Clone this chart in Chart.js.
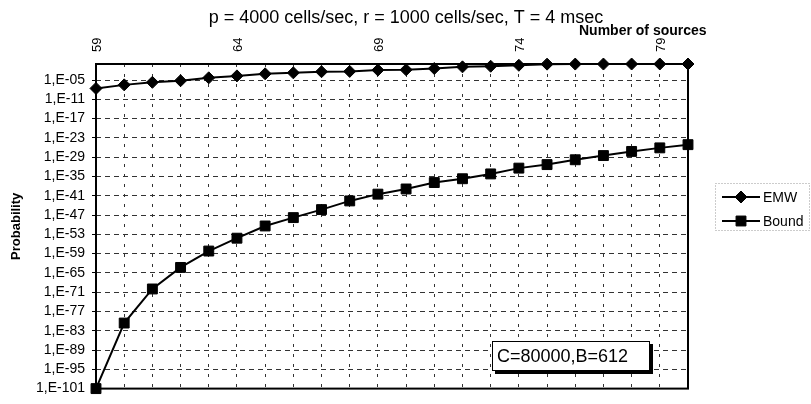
<!DOCTYPE html>
<html>
<head>
<meta charset="utf-8">
<script src="https://cdn.jsdelivr.net/npm/chart.js@4.4.1/dist/chart.umd.min.js"></script>
<style>
  html, body { margin: 0; padding: 0; background: #fff; }
  #wrap { width: 811px; height: 404px; }
</style>
</head>
<body>
<div id="wrap"><canvas id="chart" width="811" height="404"></canvas></div>
<script>
const sources = ['59', '60', '61', '62', '63', '64', '65', '66', '67', '68', '69',
                 '70', '71', '72', '73', '74', '75', '76', '77', '78', '79', '80'];
const shownSources = ['59', '64', '69', '74', '79'];
const emw = [2.5e-8, 3.2e-7, 2e-6, 6.3e-6, 5e-5, 2e-4, 9e-4, 1.8e-3, 4e-3, 5e-3, 1.3e-2,
             1.6e-2, 4e-2, 0.13, 0.2, 0.4, 0.9, 0.95, 0.97, 0.98, 0.99, 1];
const bound = [1e-101, 2.5e-81, 1e-70, 5e-64, 6.3e-59, 6.3e-55, 4e-51, 1.6e-48, 5e-46, 2.5e-43, 3.2e-41,
               1.3e-39, 1.3e-37, 2e-36, 6.3e-35, 4e-33, 5e-32, 1.6e-30, 3.2e-29, 6.3e-28, 8e-27, 8e-26];
const yTickExponents = [-101, -95, -89, -83, -77, -71, -65, -59, -53, -47, -41, -35, -29, -23, -17, -11, -5];
const titleText = 'p = 4000 cells/sec, r = 1000 cells/sec, T = 4 msec';
const xTitleText = 'Number of sources';
const noteText = 'C=80000,B=612';

const FONT = '"Liberation Sans", Arial, sans-serif';
Chart.defaults.font.family = FONT;
Chart.defaults.color = '#000';

function formatExp(v) {
    const e = Math.round(Math.log10(v));
    return '1,E-' + String(-e).padStart(2, '0');
}

const decor = {
    id: 'decor',
    beforeDatasetsDraw(chart) {
        const { ctx, chartArea: a } = chart;
        ctx.save();
        ctx.strokeStyle = '#000';
        ctx.lineWidth = 2;
        ctx.strokeRect(a.left, a.top, a.right - a.left, a.bottom - a.top);
        ctx.restore();
    },
    afterDraw(chart) {
        const ctx = chart.ctx;
        ctx.save();
        ctx.fillStyle = '#000';

        // title
        ctx.font = '18px ' + FONT;
        ctx.textAlign = 'center';
        ctx.textBaseline = 'alphabetic';
        ctx.fillText(titleText, 406, 23);

        // x axis title
        ctx.font = 'bold 14px ' + FONT;
        ctx.textAlign = 'left';
        ctx.fillText(xTitleText, 579, 35);

        // note box
        ctx.fillStyle = '#000';
        ctx.fillRect(495, 344, 158, 30);
        ctx.fillStyle = '#fff';
        ctx.fillRect(492, 341, 158, 30);
        ctx.strokeStyle = '#000';
        ctx.lineWidth = 1;
        ctx.strokeRect(492.5, 341.5, 157, 29);
        ctx.fillStyle = '#000';
        ctx.font = '18px ' + FONT;
        ctx.textBaseline = 'middle';
        ctx.fillText(noteText, 497, 357);

        // legend
        ctx.fillStyle = '#fff';
        ctx.fillRect(715, 183, 95, 48);
        ctx.setLineDash([1, 2]);
        ctx.strokeStyle = '#999';
        ctx.strokeRect(715.5, 183.5, 94, 47);
        ctx.setLineDash([]);
        chart.data.datasets.forEach((ds, i) => {
            const y = 197 + i * 24;
            ctx.strokeStyle = '#000';
            ctx.lineWidth = 2;
            ctx.beginPath();
            ctx.moveTo(722, y);
            ctx.lineTo(760, y);
            ctx.stroke();
            ctx.fillStyle = '#000';
            ctx.lineWidth = 1;
            Chart.helpers.drawPoint(ctx, { pointStyle: ds.pointStyle, radius: ds.pointRadius, borderWidth: 1, rotation: 0 }, 741, y);
            ctx.font = '14px ' + FONT;
            ctx.textAlign = 'left';
            ctx.textBaseline = 'middle';
            ctx.fillText(ds.label, 763, y + 1);
        });
        ctx.restore();
    }
};

new Chart(document.getElementById('chart'), {
    type: 'line',
    data: {
        labels: sources,
        datasets: [
            {
                label: 'EMW',
                data: emw,
                borderColor: '#000',
                backgroundColor: '#000',
                borderWidth: 2,
                pointStyle: 'rectRot',
                pointRadius: 6,
                pointBorderWidth: 1,
                tension: 0,
                clip: false
            },
            {
                label: 'Bound',
                data: bound,
                borderColor: '#000',
                backgroundColor: '#000',
                borderWidth: 2,
                pointStyle: 'rect',
                pointRadius: 7,
                pointBorderWidth: 1,
                tension: 0,
                clip: false
            }
        ]
    },
    options: {
        responsive: false,
        animation: false,
        devicePixelRatio: 1,
        layout: { padding: { top: 0, left: 0, right: 123, bottom: 13 } },
        plugins: {
            legend: { display: false },
            title: { display: false },
            tooltip: { enabled: false }
        },
        scales: {
            x: {
                position: 'top',
                offset: false,
                grid: { color: '#333', lineWidth: 1, drawTicks: false },
                border: { display: false, dash: [3, 7] },
                ticks: {
                    autoSkip: false,
                    minRotation: 90,
                    maxRotation: 90,
                    padding: 12,
                    labelOffset: 17,
                    color: '#000',
                    font: { size: 13 },
                    callback: function (v) {
                        const l = this.getLabelForValue(v);
                        return shownSources.includes(l) ? l : '';
                    }
                },
                afterFit: s => { s.height = 64; }
            },
            y: {
                type: 'logarithmic',
                min: 1e-101,
                max: 1,
                afterBuildTicks: s => {
                    s.ticks = yTickExponents.map(e => ({ value: Math.pow(10, e) }));
                },
                grid: { color: '#333', lineWidth: 1, tickColor: '#000', tickLength: 4, tickBorderDash: [] },
                border: { display: false, dash: [5, 4] },
                ticks: {
                    padding: 7,
                    color: '#000',
                    font: { size: 14 },
                    callback: v => formatExp(v)
                },
                title: {
                    display: true,
                    text: 'Probability',
                    color: '#000',
                    font: { size: 13, weight: 'bold' },
                    padding: { top: 9, bottom: 0 }
                },
                afterFit: s => { s.width = 96; }
            }
        }
    },
    plugins: [decor]
});
</script>
</body>
</html>
